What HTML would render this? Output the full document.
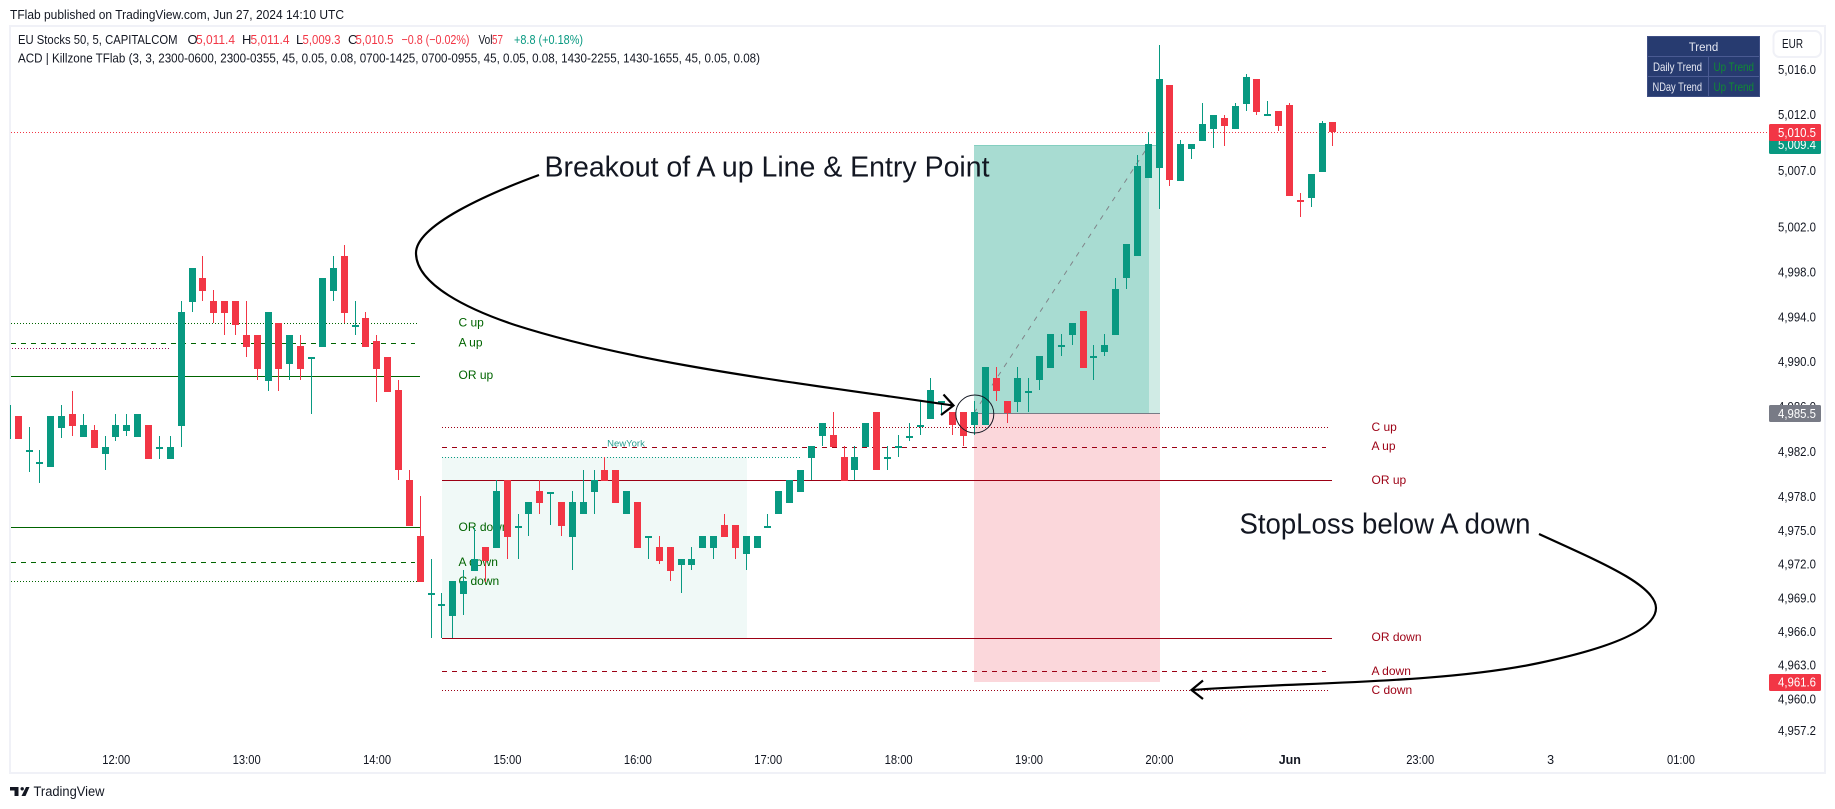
<!DOCTYPE html>
<html lang="en">
<head>
<meta charset="utf-8">
<title>EU Stocks 50 chart</title>
<style>
html,body{margin:0;padding:0;background:#fff;width:1835px;height:809px;overflow:hidden}
svg{display:block;position:absolute;left:0;top:0}
text{font-family:"Liberation Sans",sans-serif}
.crisp{shape-rendering:crispEdges}
</style>
</head>
<body>
<svg id="chart" width="1835" height="809" viewBox="0 0 1835 809" xmlns="http://www.w3.org/2000/svg">
  <defs><clipPath id="paneClip"><rect x="10" y="27" width="1815" height="745"/></clipPath></defs>
  <text x="10" y="19" font-size="13" fill="#131722" textLength="334" lengthAdjust="spacingAndGlyphs">TFlab published on TradingView.com, Jun 27, 2024 14:10 UTC</text>
  <rect class="crisp" x="10" y="26" width="1815" height="747" fill="#fff" stroke="#f0f1f7" stroke-width="2"/>
  <g id="pane" clip-path="url(#paneClip)"></g>
  <g font-size="13">
    <text x="18" y="44" fill="#131722" textLength="159.5" lengthAdjust="spacingAndGlyphs">EU Stocks 50, 5, CAPITALCOM</text>
    <text x="187.5" y="44" fill="#131722">O</text>
    <text x="196" y="44" fill="#f23645" textLength="39" lengthAdjust="spacingAndGlyphs">5,011.4</text>
    <text x="242" y="44" fill="#131722">H</text>
    <text x="250.5" y="44" fill="#f23645" textLength="39" lengthAdjust="spacingAndGlyphs">5,011.4</text>
    <text x="296" y="44" fill="#131722">L</text>
    <text x="302.5" y="44" fill="#f23645" textLength="38" lengthAdjust="spacingAndGlyphs">5,009.3</text>
    <text x="348" y="44" fill="#131722">C</text>
    <text x="355.5" y="44" fill="#f23645" textLength="38" lengthAdjust="spacingAndGlyphs">5,010.5</text>
    <text x="401.5" y="44" fill="#f23645" textLength="68" lengthAdjust="spacingAndGlyphs">−0.8 (−0.02%)</text>
    <text x="478.5" y="44" fill="#131722" textLength="14" lengthAdjust="spacingAndGlyphs">Vol</text>
    <text x="492" y="44" fill="#f23645" textLength="11" lengthAdjust="spacingAndGlyphs">57</text>
    <text x="514" y="44" fill="#089981" textLength="69" lengthAdjust="spacingAndGlyphs">+8.8 (+0.18%)</text>
    <text x="18" y="62.5" fill="#131722" textLength="742" lengthAdjust="spacingAndGlyphs">ACD | Killzone TFlab (3, 3, 2300-0600, 2300-0355, 45, 0.05, 0.08, 0700-1425, 0700-0955, 45, 0.05, 0.08, 1430-2255, 1430-1655, 45, 0.05, 0.08)</text>
  </g>
  <g>
    <rect class="crisp" x="1647.5" y="36.5" width="112" height="60" fill="#273b70" stroke="#3f4f84"/>
    <path class="crisp" d="M1648 56.5H1759M1648 76.5H1759M1708.5 57V96" stroke="#4a5a92" fill="none"/>
    <text x="1703.5" y="51" font-size="11.5" fill="#e6e8f2" text-anchor="middle">Trend</text>
    <text x="1653" y="71" font-size="12" fill="#e6e8f2" textLength="49" lengthAdjust="spacingAndGlyphs">Daily Trend</text>
    <text x="1713.5" y="71" font-size="12" fill="#108a34" textLength="40.5" lengthAdjust="spacingAndGlyphs">Up Trend</text>
    <text x="1652.5" y="91" font-size="12" fill="#e6e8f2" textLength="49.5" lengthAdjust="spacingAndGlyphs">NDay Trend</text>
    <text x="1713.5" y="91" font-size="12" fill="#108a34" textLength="40.5" lengthAdjust="spacingAndGlyphs">Up Trend</text>
  </g>
  <g>
    <rect x="1773.5" y="31" width="47.5" height="26" rx="6" fill="#fff" stroke="#f0f1f7" stroke-width="2"/>
    <text x="1782" y="48" font-size="13" fill="#131722" textLength="21" lengthAdjust="spacingAndGlyphs">EUR</text>
  </g>
  <g id="yaxis"></g>
  <g id="xaxis"></g>
  <g id="tags"></g>
  <g>
    <text x="544.5" y="176.5" font-size="29" fill="#131722" textLength="445" lengthAdjust="spacingAndGlyphs">Breakout of A up Line &amp; Entry Point</text>
    <path d="M539,175 C490,193 416,225 416,253 C416,285 470,310 515,325 C640,365 800,383 953,405.5" fill="none" stroke="#000" stroke-width="2.2"/>
    <path d="M943.5,394.5 L953.5,405.5 L941,415" fill="none" stroke="#000" stroke-width="2.2"/>
    <circle cx="974.8" cy="414" r="19" fill="none" stroke="#131722" stroke-width="1"/>
  </g>
  <g>
    <text x="1239.5" y="533.5" font-size="29" fill="#131722" textLength="291" lengthAdjust="spacingAndGlyphs">StopLoss below A down</text>
    <path d="M1539,534 C1600,562 1656,585 1656,608 C1656,630 1610,648 1539,663 C1440,684 1300,682 1192,690" fill="none" stroke="#000" stroke-width="2.2"/>
    <path d="M1203,680.5 L1191.5,690 L1203,699" fill="none" stroke="#000" stroke-width="2.2"/>
  </g>
  <g>
    <path d="M10 787H18.5V796H14.5V790.5H10Z M22.2 790.5a1.7 1.7 0 1 0 0-3.4a1.7 1.7 0 0 0 0 3.4Z M26 787H29.5L25.5 796H21.5Z" fill="#131722"/>
    <text x="33.5" y="796" font-size="13.5" fill="#131722" textLength="71" lengthAdjust="spacingAndGlyphs">TradingView</text>
  </g>
</svg>
<script>
// Candle data, first entry is the partly hidden bar at the left edge
const opens = [
4983.2,4985.3,4982.2,4981.2,4980.7,4984.2,4985.4,4983.4,4984.0,4981.9,
4983.4,4983.9,4983.4,4984.5,4982.5,4981.4,4984.4,4995.4,4997.5,4995.5,
4995.5,4995.5,4992.5,4992.5,4988.4,4993.5,4989.9,4991.5,4990.5,4991.4,
4996.4,4999.5,4993.4,4994.0,4991.9,4990.5,4987.6,4979.6,4974.6,4969.5,
4968.5,4967.5,4969.4,4971.5,4973.6,4973.5,4979.6,4975.5,4976.5,4978.6,
4978.5,4977.6,4974.5,4976.5,4978.5,4980.5,4980.5,4976.5,4977.6,4974.6,
4973.6,4973.6,4972.0,4972.0,4973.5,4973.5,4975.6,4975.6,4973.0,4973.5,
4975.5,4976.5,4977.5,4978.5,4981.5,4983.5,4983.6,4981.6,4980.5,4982.5,
4985.6,4981.6,4982.6,4983.5,4984.5,4985.0,4986.6,4985.6,4985.6,4984.5,
4984.5,4988.6,4986.6,4986.5,4987.5,4988.5,4989.5,4991.6,4992.5,4994.6,
4990.6,4991.0,4992.5,4997.5,4999.5,5006.4,5007.3,5014.7,5006.2,5009.0,
5009.7,5010.8,5011.8,5010.8,5013.0,5015.2,5012.1,5012.4,5012.9,5004.5,
5004.7,5007.0,5011.4];
const highs = [
4986.2,4985.3,4984.3,4982.2,4985.3,4986.2,4987.5,4985.4,4984.5,4983.5,
4985.4,4985.4,4985.4,4984.5,4983.5,4983.5,4995.5,4998.4,4999.5,4996.5,
4995.5,4995.5,4995.5,4992.5,4994.5,4993.5,4992.5,4992.5,4990.5,4997.5,
4999.5,5000.5,4995.5,4994.5,4992.5,4990.5,4988.5,4980.5,4978.1,4972.5,
4969.5,4970.6,4971.6,4975.3,4973.6,4979.6,4979.6,4976.5,4977.6,4979.6,
4978.5,4977.6,4978.6,4980.5,4980.5,4981.6,4980.5,4978.6,4977.6,4974.6,
4974.6,4973.6,4972.5,4973.6,4974.6,4974.6,4976.5,4975.6,4974.6,4974.6,
4976.5,4978.6,4979.6,4980.5,4982.6,4984.6,4985.6,4982.6,4982.6,4984.6,
4985.6,4982.6,4983.6,4984.6,4986.6,4988.6,4986.6,4985.6,4985.6,4986.6,
4989.6,4989.6,4986.6,4989.6,4988.6,4990.6,4992.6,4992.6,4993.5,4994.6,
4991.6,4992.6,4997.5,5000.6,5008.5,5010.5,5018.3,5014.7,5009.8,5009.5,
5013.1,5012.0,5012.0,5013.1,5015.7,5015.2,5013.3,5012.4,5013.1,5005.1,
5006.8,5011.5,5011.4];
const lows = [
4983.2,4983.2,4980.3,4979.3,4980.7,4983.3,4983.5,4983.4,4982.4,4980.5,
4983.0,4983.5,4983.4,4981.4,4981.4,4981.4,4982.5,4994.5,4995.5,4993.5,
4992.5,4992.5,4990.5,4988.5,4987.5,4987.5,4988.5,4988.5,4985.4,4991.4,
4995.5,4993.5,4992.5,4991.4,4986.5,4987.4,4979.6,4975.5,4970.5,4965.5,
4965.5,4965.5,4967.6,4971.5,4970.5,4973.5,4972.5,4972.5,4974.6,4976.5,
4975.6,4974.6,4971.6,4976.5,4976.5,4979.5,4977.5,4976.5,4973.5,4972.5,
4972.1,4970.6,4969.5,4971.6,4973.5,4972.5,4974.5,4972.5,4971.6,4973.5,
4975.5,4976.5,4977.5,4978.5,4979.6,4982.6,4982.5,4979.5,4979.6,4982.5,
4980.5,4980.5,4981.6,4983.0,4983.6,4985.0,4985.4,4983.6,4982.6,4983.6,
4984.5,4986.6,4984.6,4985.6,4985.6,4987.6,4989.5,4990.6,4991.6,4989.5,
4988.5,4990.6,4992.5,4996.6,4999.5,5006.4,5003.7,5005.7,5006.2,5008.1,
5009.7,5009.1,5009.3,5010.8,5012.4,5012.0,5012.0,5010.6,5004.8,5003.0,
5003.9,5007.0,5009.3];
const closes = [
4986.2,4983.2,4982.2,4981.2,4985.3,4985.3,4984.4,4984.5,4982.4,4982.5,
4984.5,4984.5,4985.4,4981.4,4982.5,4982.5,4994.5,4998.4,4996.4,4994.4,
4994.4,4993.4,4991.4,4989.4,4994.5,4989.4,4992.5,4989.4,4990.5,4997.5,
4998.4,4994.4,4993.4,4991.4,4989.4,4987.4,4980.5,4975.5,4970.5,4969.5,
4968.5,4970.6,4970.6,4972.5,4972.4,4978.6,4974.5,4975.5,4977.6,4977.5,
4978.5,4975.5,4977.6,4977.6,4979.6,4979.5,4977.5,4978.6,4973.5,4974.6,
4972.4,4971.5,4972.5,4972.5,4974.6,4974.6,4974.5,4973.5,4974.6,4974.6,
4975.5,4978.6,4979.6,4980.5,4982.6,4984.6,4982.5,4979.5,4981.6,4984.6,
4980.5,4981.6,4982.6,4983.5,4984.5,4987.6,4986.6,4984.5,4983.5,4985.6,
4989.6,4987.5,4985.5,4988.6,4987.5,4990.6,4992.6,4991.6,4993.5,4989.5,
4990.6,4991.6,4996.6,5000.6,5007.5,5009.5,5015.2,5006.3,5009.5,5009.5,
5011.2,5012.0,5011.1,5012.8,5015.4,5012.3,5012.1,5011.1,5004.8,5004.4,
5006.8,5011.3,5010.5];
const priceTickValues = [5016,5012,5007,5002,4998,4994,4990,4986,4982,4978,4975,4972,4969,4966,4963,4960,4957.2];
const timeTickLabels = ['12:00','13:00','14:00','15:00','16:00','17:00','18:00','19:00','20:00','Jun','23:00','3','01:00'];
const timeTickBars = [9,21,33,45,57,69,81,93,105,117,129,141,153];
const lastPrice = 5010.5;
const takeProfitPrice = 5009.4;
const entryPrice = 4985.5;
const stopPrice = 4961.6;
const sessionOneLevels = [4993.5,4991.7,4988.8,4975.3,4972.2,4970.5];
const sessionOneExtraLevel = 4991.3;
const sessionTwoLevels = [4984.2,4982.5,4979.5,4965.5,4962.5,4960.8];
const sessionTwoHigh = 4981.6;
const levelNames = ['C up','A up','OR up','OR down','A down','C down'];

const NS = 'http://www.w3.org/2000/svg';
const UP = '#089981', DOWN = '#f23645', DARKGREEN = '#006400', DARKRED = '#9c0014';
const DOT = '1 2', DASH = '5 5';
const yScale = p => 70.5 + (5016 - p) * 11.24;
const barLeft = i => Math.floor(15 + i * 10.866 + 0.2);
const barCenter = i => 18.5 + i * 10.866;
const pane = document.getElementById('pane');
const yaxis = document.getElementById('yaxis');
const xaxis = document.getElementById('xaxis');
const tags = document.getElementById('tags');

function make(tag, parent, attrs) {
  const el = document.createElementNS(NS, tag);
  for (const k in attrs) el.setAttribute(k, attrs[k]);
  parent.appendChild(el);
  return el;
}
function drawLevel(price, x1, x2, color, dash) {
  const y = Math.floor(yScale(price)) + 0.5;
  const el = make('line', pane, {x1: x1, x2: x2, y1: y, y2: y, stroke: color, 'stroke-width': 1});
  
  
  if (dash) el.setAttribute('stroke-dasharray', dash);
  el.setAttribute('shape-rendering', 'crispEdges');
}
function drawLabel(text, price, x, color) {
  const el = make('text', pane, {x: x, y: yScale(price) + 3, 'font-size': 12, fill: color});
  
  
  el.textContent = text;
}
function drawRect(name, x, y, w, h, fill) {
  const el = make('rect', pane, {x: x, y: y, width: w, height: h, fill: fill, 'shape-rendering': 'crispEdges'});
  
  
}

// session box
drawRect('session-box', 442, yScale(sessionTwoHigh), 305, yScale(sessionTwoLevels[3]) - yScale(sessionTwoHigh), '#f0f9f7');
const nyLabel = make('text', pane, {x: 626, y: 446.5, 'font-size': 9.5, fill: '#2a9d8f', 'text-anchor': 'middle'});


nyLabel.textContent = 'NewYork';

// long position tool
const tpY = Math.round(yScale(takeProfitPrice));
const entryY = Math.round(yScale(entryPrice));
const stopY = Math.round(yScale(stopPrice));
drawRect('target-zone', 974, tpY, 186, entryY - tpY, '#d0ebe5');
drawRect('target-zone-filled', 974, tpY, 175, entryY - tpY, '#a8dcd2');
drawRect('target-top-edge', 974, tpY, 186, 1, '#84cfc0');
drawRect('stop-zone', 974, entryY, 186, stopY - entryY, '#fbd7db');
drawRect('entry-line', 974, entryY, 186, 1, '#787b86');
const riskLine = make('line', pane, {x1: 974, y1: entryY, x2: 1149, y2: tpY, stroke: '#808489', 'stroke-width': 1, 'stroke-dasharray': '5 6'});



// last price line
drawLevel(lastPrice, 11, 1769, DOWN, DOT);

// first session levels
const styles = [DOT, DASH, null, null, DASH, DOT];
const oneEnds = [418, 415, 420, 420, 415, 418];
sessionOneLevels.forEach((p, k) => {
  drawLevel(p, 11, oneEnds[k], DARKGREEN, styles[k]);
  drawLabel(levelNames[k], p, 458.5, DARKGREEN);
});
drawLevel(sessionOneExtraLevel, 12, 169, '#8e0c56', DOT);

// second session levels
const twoEnds = [1330, 1326, 1332, 1332, 1326, 1330];
sessionTwoLevels.forEach((p, k) => {
  drawLevel(p, 442, twoEnds[k], DARKRED, styles[k]);
  drawLabel(levelNames[k], p, 1371.5, DARKRED);
});
drawLevel(sessionTwoHigh, 442, 800, UP, DOT);

// candles (array index 0 sits one bar left of bar zero)
opens.forEach((o, n) => {
  const i = n - 1;
  const c = closes[n];
  const color = c >= o ? UP : DOWN;
  const left = barLeft(i);
  const top = Math.round(yScale(Math.max(o, c)));
  const bottom = Math.round(yScale(Math.min(o, c)));
  const hi = Math.round(yScale(highs[n]));
  const lo = Math.round(yScale(lows[n]));
  const g = make('g', pane, {fill: color, 'shape-rendering': 'crispEdges'});
  
  
  const wick = make('rect', g, {x: left + 3, y: hi, width: 1, height: Math.max(1, lo - hi)});
  
  
  const body = make('rect', g, {x: left, y: top, width: 7, height: Math.max(2, bottom - top)});
  
  
});

// price axis
priceTickValues.forEach(p => {
  const t = make('text', yaxis, {x: 1778, y: yScale(p) + 3.5, 'font-size': 12.5, fill: '#131722', textLength: 38, lengthAdjust: 'spacingAndGlyphs'});
  
  
  t.textContent = (p === Math.floor(p) ? p.toFixed(1) : String(p)).replace(/^(\d)(\d{3})/, '$1,$2');
});

// time axis
timeTickLabels.forEach((label, k) => {
  const t = make('text', xaxis, {x: barCenter(timeTickBars[k]), y: 764, 'font-size': 12.5, fill: '#131722', 'text-anchor': 'middle'});
  
  
  if (label.length === 5) {
    t.setAttribute('textLength', 28);
    t.setAttribute('lengthAdjust', 'spacingAndGlyphs');
  }
  if (label === 'Jun') t.setAttribute('font-weight', 'bold');
  t.textContent = label;
});

// axis price tags, drawn back to front
function drawTag(price, color) {
  const y = yScale(price);
  const box = make('rect', tags, {x: 1769, y: Math.round(y) - 8, width: 52, height: 17, rx: 1.5, fill: color});
  
  
  const t = make('text', tags, {x: 1778, y: y + 4.5, 'font-size': 12.5, fill: '#fff', textLength: 38, lengthAdjust: 'spacingAndGlyphs'});
  
  
  t.textContent = price.toFixed(1).replace(/^(\d)(\d{3})/, '$1,$2');
}
drawTag(takeProfitPrice, UP);
drawTag(lastPrice, DOWN);
drawTag(entryPrice, '#787b86');
drawTag(stopPrice, DOWN);
</script>
</body>
</html>
